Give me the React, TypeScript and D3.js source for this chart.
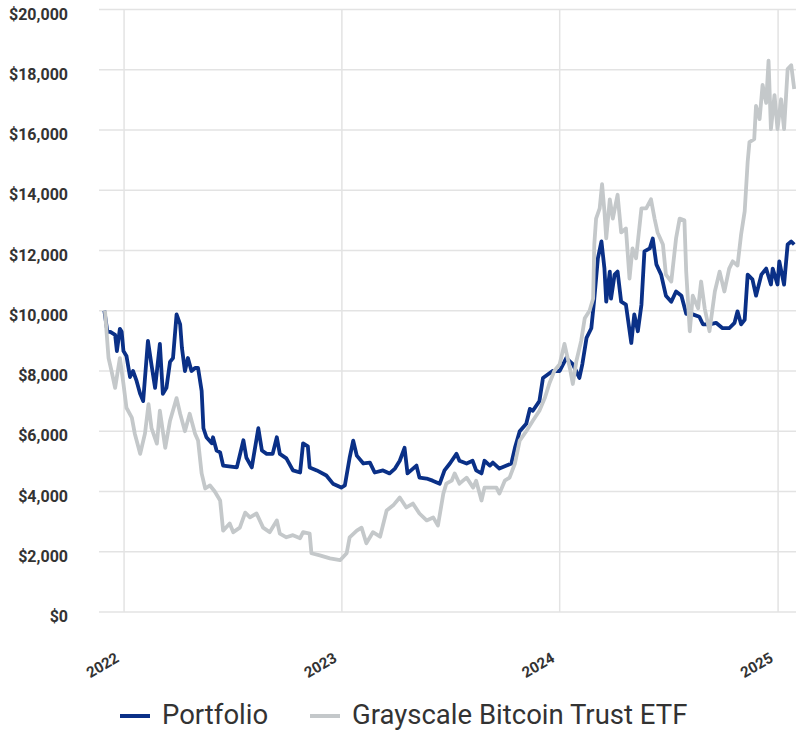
import React, { useEffect, useRef } from 'react'
import * as d3 from 'd3'

const portfolioDates = [
  '2021-11-29', '2021-12-04', '2021-12-09', '2021-12-17', '2021-12-20', '2021-12-25', '2021-12-28', '2021-12-31',
  '2022-01-05', '2022-01-11', '2022-01-16', '2022-01-22', '2022-01-28', '2022-02-02', '2022-02-10', '2022-02-16',
  '2022-02-22', '2022-03-02', '2022-03-07', '2022-03-13', '2022-03-19', '2022-03-24', '2022-03-30', '2022-04-05',
  '2022-04-08', '2022-04-13', '2022-04-18', '2022-04-24', '2022-04-30', '2022-05-05', '2022-05-11', '2022-05-14',
  '2022-05-19', '2022-05-28', '2022-05-30', '2022-06-05', '2022-06-11', '2022-06-16', '2022-07-09', '2022-07-20',
  '2022-07-25', '2022-08-03', '2022-08-14', '2022-08-20', '2022-08-28', '2022-09-07', '2022-09-14', '2022-09-19',
  '2022-09-30', '2022-10-11', '2022-10-23', '2022-10-28', '2022-11-05', '2022-11-08', '2022-11-20', '2022-12-06',
  '2022-12-17', '2022-12-31', '2023-01-06', '2023-01-14', '2023-01-20', '2023-01-26', '2023-02-06', '2023-02-17',
  '2023-02-25', '2023-03-11', '2023-03-22', '2023-03-31', '2023-04-08', '2023-04-16', '2023-04-21', '2023-05-06',
  '2023-05-11', '2023-05-23', '2023-06-02', '2023-06-14', '2023-06-22', '2023-07-01', '2023-07-12', '2023-07-17',
  '2023-07-29', '2023-08-08', '2023-08-14', '2023-08-23', '2023-08-28', '2023-09-06', '2023-09-11', '2023-09-22',
  '2023-10-04', '2023-10-12', '2023-10-18', '2023-10-26', '2023-11-06', '2023-11-12', '2023-11-17', '2023-11-28',
  '2023-12-04', '2023-12-20', '2024-01-01', '2024-01-12', '2024-01-23', '2024-02-03', '2024-02-08', '2024-02-15',
  '2024-02-23', '2024-02-28', '2024-03-05', '2024-03-11', '2024-03-16', '2024-03-19', '2024-03-25', '2024-03-27',
  '2024-04-02', '2024-04-07', '2024-04-13', '2024-04-21', '2024-04-30', '2024-05-05', '2024-05-11', '2024-05-17',
  '2024-05-22', '2024-05-31', '2024-06-05', '2024-06-11', '2024-06-19', '2024-06-27', '2024-07-06', '2024-07-14',
  '2024-07-23', '2024-07-31', '2024-08-11', '2024-08-22', '2024-08-28', '2024-09-08', '2024-09-19', '2024-09-30',
  '2024-10-11', '2024-10-20', '2024-10-25', '2024-10-31', '2024-11-06', '2024-11-11', '2024-11-19', '2024-11-25',
  '2024-12-04', '2024-12-12', '2024-12-20', '2024-12-23', '2024-12-31', '2025-01-03', '2025-01-11', '2025-01-17',
  '2025-01-23', '2025-01-28'
]

const portfolioValues = [
  10000, 9300, 9300, 9200, 8660, 9400, 9300, 8660,
  8500, 7800, 8000, 7670, 7240, 7000, 9000, 8200,
  7440, 8900, 7240, 7440, 8300, 8430, 9880, 9550,
  8760, 8000, 8430, 8000, 8100, 8100, 7340, 6100,
  5800, 5600, 5800, 5360, 5300, 4860, 4800, 5700,
  5120, 4800, 6100, 5360, 5250, 5250, 5800, 5250,
  5100, 4700, 4630, 5600, 5500, 4800, 4700, 4530,
  4260, 4130, 4200, 5120, 5690, 5190, 4930, 4960,
  4630, 4700, 4600, 4760, 5020, 5450, 4600, 4860,
  4460, 4430, 4360, 4260, 4700, 4930, 5250, 5020,
  4930, 5020, 4700, 4600, 5020, 4860, 4960, 4760,
  4860, 4930, 5450, 6000, 6250, 6740, 6680, 7000,
  7770, 8000, 8000, 8430, 8230, 7770, 8230, 9100,
  9420, 10400, 11740, 12300, 11400, 10300, 11300, 10400,
  11200, 11300, 10300, 10200, 8930, 9880, 9320, 10200,
  11970, 12070, 12400, 11540, 11200, 10500, 10300, 10640,
  10500, 9900, 9880, 9800, 9550, 9550, 9600, 9420,
  9420, 9600, 9980, 9550, 9700, 11200, 11040, 10500,
  11200, 11400, 10870, 11400, 10870, 11640, 10870, 12200,
  12300, 12200
]

const gbtcDates = [
  '2021-11-30', '2021-12-06', '2021-12-11', '2021-12-17', '2021-12-25', '2021-12-31', '2022-01-05', '2022-01-14',
  '2022-01-19', '2022-01-28', '2022-02-05', '2022-02-11', '2022-02-16', '2022-02-25', '2022-03-02', '2022-03-11',
  '2022-03-19', '2022-03-30', '2022-04-05', '2022-04-13', '2022-04-21', '2022-04-30', '2022-05-05', '2022-05-11',
  '2022-05-17', '2022-05-25', '2022-06-02', '2022-06-11', '2022-06-16', '2022-06-27', '2022-07-03', '2022-07-14',
  '2022-07-23', '2022-07-31', '2022-08-11', '2022-08-22', '2022-09-02', '2022-09-14', '2022-09-19', '2022-09-30',
  '2022-10-11', '2022-10-23', '2022-10-28', '2022-11-08', '2022-11-11', '2022-11-25', '2022-12-12', '2022-12-29',
  '2023-01-09', '2023-01-14', '2023-01-26', '2023-02-03', '2023-02-11', '2023-02-22', '2023-03-06', '2023-03-17',
  '2023-03-28', '2023-04-08', '2023-04-19', '2023-04-30', '2023-05-11', '2023-05-23', '2023-06-03', '2023-06-11',
  '2023-06-20', '2023-06-25', '2023-07-04', '2023-07-09', '2023-07-17', '2023-07-29', '2023-08-09', '2023-08-14',
  '2023-08-23', '2023-08-28', '2023-09-09', '2023-09-17', '2023-09-22', '2023-10-01', '2023-10-09', '2023-10-18',
  '2023-10-26', '2023-11-06', '2023-11-17', '2023-11-28', '2023-12-07', '2023-12-15', '2023-12-23', '2024-01-01',
  '2024-01-09', '2024-01-18', '2024-01-23', '2024-01-29', '2024-02-06', '2024-02-12', '2024-02-20', '2024-02-26',
  '2024-02-28', '2024-03-02', '2024-03-08', '2024-03-12', '2024-03-16', '2024-03-19', '2024-03-25', '2024-03-30',
  '2024-04-07', '2024-04-13', '2024-04-21', '2024-04-27', '2024-05-02', '2024-05-08', '2024-05-17', '2024-05-25',
  '2024-06-02', '2024-06-08', '2024-06-13', '2024-06-22', '2024-06-27', '2024-07-06', '2024-07-14', '2024-07-20',
  '2024-07-28', '2024-07-31', '2024-08-06', '2024-08-11', '2024-08-20', '2024-08-25', '2024-08-31', '2024-09-08',
  '2024-09-17', '2024-09-25', '2024-10-03', '2024-10-11', '2024-10-17', '2024-10-25', '2024-10-31', '2024-11-06',
  '2024-11-11', '2024-11-14', '2024-11-22', '2024-11-25', '2024-12-01', '2024-12-06', '2024-12-12', '2024-12-16',
  '2024-12-20', '2024-12-26', '2024-12-31', '2025-01-06', '2025-01-11', '2025-01-17', '2025-01-23', '2025-01-28'
]

const gbtcValues = [
  10000, 8430, 8000, 7440, 8430, 7570, 6780, 6450,
  5920, 5250, 5920, 6900, 6100, 5590, 6680, 5450,
  6350, 7100, 6580, 6000, 6580, 5920, 5690, 4600,
  4100, 4200, 4000, 3700, 2700, 2940, 2650, 2800,
  3300, 3140, 3270, 2800, 2650, 3040, 2600, 2480,
  2550, 2450, 2650, 2600, 1950, 1880, 1780, 1720,
  1950, 2480, 2700, 2800, 2280, 2650, 2500, 3370,
  3540, 3800, 3470, 3600, 3270, 3040, 3140, 2870,
  3930, 4260, 4360, 4600, 4260, 4460, 4130, 4360,
  3700, 4130, 4130, 4130, 3930, 4360, 4460, 4930,
  5690, 6000, 6350, 6680, 7100, 7600, 8000, 8230,
  8900, 8100, 7570, 8330, 9000, 9750, 10000, 10400,
  12200, 13060, 13400, 14200, 13300, 12400, 13700, 13060,
  13850, 12600, 12730, 11070, 12070, 11740, 13400, 13400,
  13700, 13060, 12600, 12200, 11200, 10970, 12400, 13060,
  13000, 11300, 9320, 10500, 10080, 10970, 10080, 9320,
  10640, 11300, 10640, 11400, 11640, 11500, 12530, 13300,
  14940, 15600, 15700, 16800, 16360, 17500, 16900, 18300,
  16030, 17160, 16030, 17020, 16030, 18020, 18150, 17360
]

const yTicks = [0, 2000, 4000, 6000, 8000, 10000, 12000, 14000, 16000, 18000, 20000]
const xTickYears = ['2022', '2023', '2024', '2025']
const seriesNames = ['Portfolio', 'Grayscale Bitcoin Trust ETF']
const seriesColors = ['#0a3087', '#c4c8ca']

const App = () => {
  const svgRef = useRef(null)

  useEffect(() => {
    const svg = d3.select(svgRef.current)
    svg.selectAll('*').remove()

    const parse = d3.timeParse('%Y-%m-%d')
    const left = 99
    const right = 796
    const top = 9.5
    const bottom = 612

    const x = d3.scaleTime()
      .domain([parse('2021-11-20'), parse('2025-01-31')])
      .range([left, right])
    const y = d3.scaleLinear().domain([0, 20000]).range([bottom, top])

    const grid = svg.append('g')
    grid.selectAll('.hgrid')
      .data(yTicks)
      .join('line')
      .attr('x1', left).attr('x2', right)
      .attr('y1', d => y(d)).attr('y2', d => y(d))
      .attr('stroke', '#e3e3e3').attr('stroke-width', 1.5)
    grid.selectAll('.vgrid')
      .data(xTickYears)
      .join('line')
      .attr('x1', d => x(parse(d + '-01-01'))).attr('x2', d => x(parse(d + '-01-01')))
      .attr('y1', top).attr('y2', bottom)
      .attr('stroke', '#e3e3e3').attr('stroke-width', 1.5)

    // y axis labels
    svg.append('g')
      .selectAll('text')
      .data(yTicks)
      .join('text')
      .attr('x', 68)
      .attr('y', d => y(d) + 10)
      .attr('text-anchor', 'end')
      .attr('font-family', 'Roboto')
      .attr('font-weight', 'bold')
      .attr('font-size', 16)
      .attr('fill', '#333')
      .text(d => d3.format('$,')(d))

    // x axis labels
    svg.append('g')
      .selectAll('text')
      .data(xTickYears)
      .join('text')
      .attr('transform', d => `translate(${x(parse(d + '-01-01')) - 4},661) rotate(-30)`)
      .attr('text-anchor', 'end')
      .attr('font-family', 'Roboto')
      .attr('font-weight', 'bold')
      .attr('font-size', 15)
      .attr('fill', '#333')
      .text(d => d)

    const line = d3.line()
      .x(d => x(d[0]))
      .y(d => y(d[1]))

    const portfolio = portfolioDates.map((d, i) => [parse(d), portfolioValues[i]])
    const gbtc = gbtcDates.map((d, i) => [parse(d), gbtcValues[i]])

    svg.append('path')
      .datum(portfolio)
      .attr('d', line)
      .attr('fill', 'none')
      .attr('stroke', seriesColors[0])
      .attr('stroke-width', 3.8)
      .attr('stroke-linejoin', 'round')

    svg.append('path')
      .datum(gbtc)
      .attr('d', line)
      .attr('fill', 'none')
      .attr('stroke', seriesColors[1])
      .attr('stroke-width', 3.8)
      .attr('stroke-linejoin', 'round')

    // legend
    const legendX = [120, 310]
    const legend = svg.append('g')
      .selectAll('g')
      .data(seriesNames)
      .join('g')
      .attr('transform', (d, i) => `translate(${legendX[i]},716)`)
    legend.append('line')
      .attr('x1', 0).attr('x2', 30)
      .attr('stroke', (d, i) => seriesColors[i])
      .attr('stroke-width', 4)
    legend.append('text')
      .attr('x', 42)
      .attr('y', 7.5)
      .attr('font-family', 'Roboto')
      .attr('font-size', 27.5)
      .attr('fill', '#333')
      .text(d => d)
  }, [])

  return (
    <svg ref={svgRef} width={796} height={730} style={{ position: 'absolute', left: 0, top: 0 }} />
  )
}

export default App
